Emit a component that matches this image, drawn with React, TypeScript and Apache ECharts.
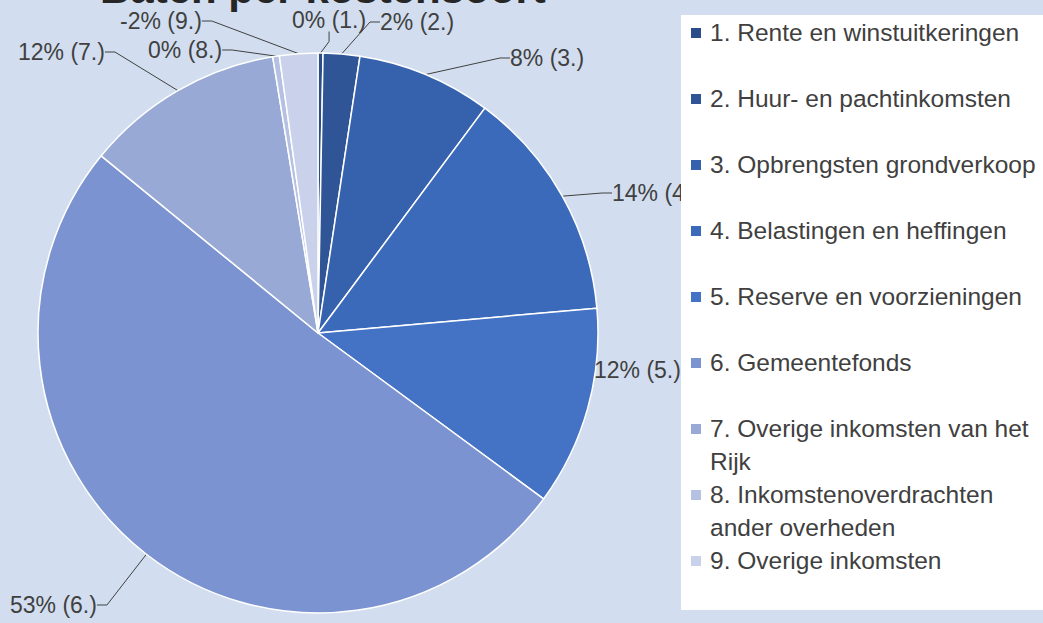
import React, { useEffect, useRef } from "react";
import * as echarts from "echarts";

const titleText = "Baten per kostensoort";

const categories = [
  "1. Rente en winstuitkeringen",
  "2. Huur- en pachtinkomsten",
  "3. Opbrengsten grondverkoop",
  "4. Belastingen en heffingen",
  "5. Reserve en voorzieningen",
  "6. Gemeentefonds",
  "7. Overige inkomsten van het Rijk",
  "8. Inkomstenoverdrachten ander overheden",
  "9. Overige inkomsten",
];

// signed values (share of total)
const values = [0.3, 2.2, 8.1, 14, 12, 53, 12, 0.4, -2.3];

const colors = [
  "#2b4d8a",
  "#2f5597",
  "#3662ad",
  "#3b6aba",
  "#4472c4",
  "#7b93d0",
  "#98a9d6",
  "#b5c1e3",
  "#c9d1eb",
];

// label anchor points (left edge, vertical middle)
const labelPositions: [number, number][] = [
  [292, 20],
  [380, 22],
  [510, 58],
  [612, 193],
  [594, 370],
  [10, 605],
  [18, 52],
  [148, 50],
  [120, 21],
];

const FONT = "Liberation Sans";
const WRAP_CHARS = 28;

function wrapTwoLines(name: string): string {
  const words = name.split(" ");
  const lines: string[] = [];
  let cur = "";
  for (const w of words) {
    const next = cur ? cur + " " + w : w;
    if (next.length > WRAP_CHARS && cur) {
      lines.push(cur);
      cur = w;
    } else {
      cur = next;
    }
  }
  lines.push(cur);
  while (lines.length < 2) lines.push(" ");
  return lines.join("\n");
}

export default function App() {
  const ref = useRef<HTMLDivElement>(null);
  useEffect(() => {
    const chart = echarts.init(ref.current!, null, { renderer: "svg" });
    const total = values.reduce((a, b) => a + b, 0);
    chart.setOption({
      animation: false,
      backgroundColor: "#d2deef",
      title: {
        text: titleText,
        left: 95,
        top: -38,
        textStyle: { fontFamily: FONT, fontSize: 42, fontWeight: "bold", color: "#262626" },
      },
      legend: {
        orient: "vertical",
        left: 681,
        top: 15,
        padding: [1, 30, 0, 10],
        itemGap: 0,
        itemWidth: 14,
        itemHeight: 66,
        icon: "path://M0,0h0.01v0.01h-0.01z M0,12h10v10h-10z M14,66h0.01v-0.01h-0.01z",
        itemStyle: { borderWidth: 0 },
        backgroundColor: "#ffffff",
        formatter: (name: string) => wrapTwoLines(name),
        textStyle: {
          fontFamily: FONT,
          fontSize: 24.5,
          color: "#404040",
          lineHeight: 33,
        },
        data: categories,
      },
      series: [
        {
          type: "pie",
          center: [318, 333],
          radius: 280,
          startAngle: 90,
          clockwise: true,
          avoidLabelOverlap: false,
          itemStyle: { borderColor: "#ffffff", borderWidth: 1.5 },
          label: {
            show: true,
            position: "outside",
            fontFamily: FONT,
            fontSize: 23,
            color: "#404040",
            formatter: (p: any) =>
              `${Math.round((values[p.dataIndex] / total) * 100)}% (${p.dataIndex + 1}.)`,
          },
          labelLine: {
            show: true,
            length: 10,
            length2: 10,
            lineStyle: { color: "#404040", width: 1 },
          },
          labelLayout: (params: any) => {
            const pos = labelPositions[params.dataIndex];
            return { x: pos[0], y: pos[1], align: "left", verticalAlign: "middle" };
          },
          emphasis: { disabled: true },
          data: categories.map((name, i) => ({
            name,
            value: Math.abs(values[i]),
            itemStyle: { color: colors[i] },
          })),
        },
      ],
    });
    return () => chart.dispose();
  }, []);
  return (
    <div
      ref={ref}
      style={{ position: "fixed", left: 0, top: 0, width: 1043, height: 623 }}
    />
  );
}
